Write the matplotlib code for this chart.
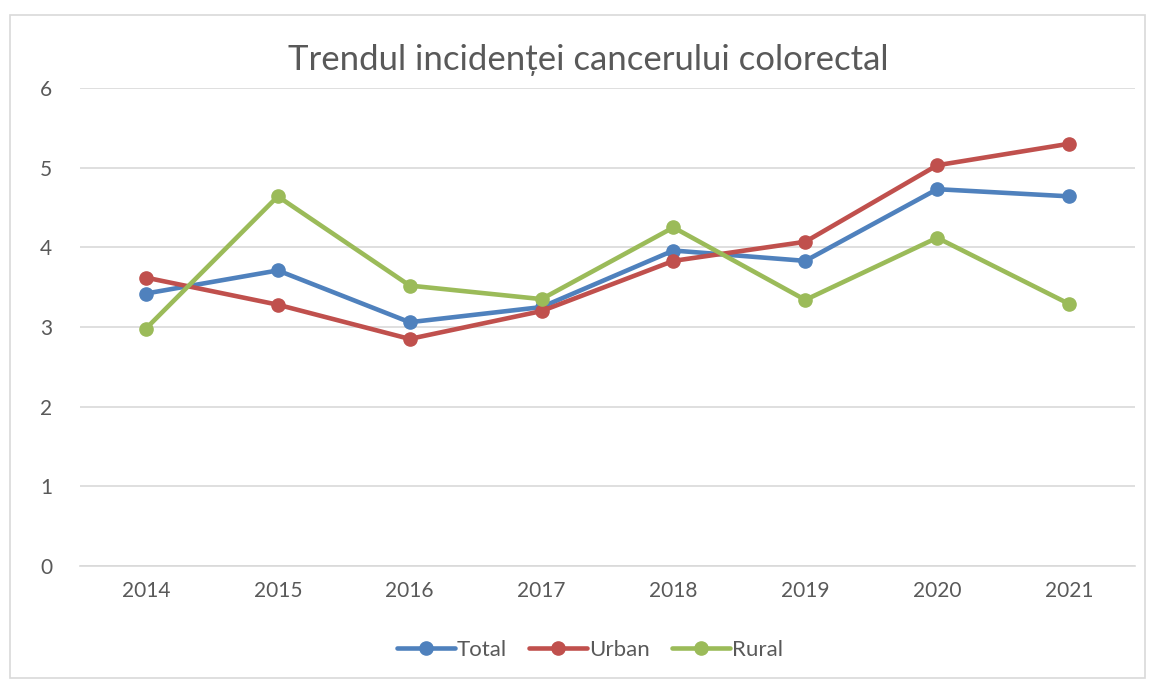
import matplotlib.pyplot as plt
from matplotlib.patches import Rectangle

plt.rcParams['font.family'] = ['Lato', 'DejaVu Sans']

years = ['2014', '2015', '2016', '2017', '2018', '2019', '2020', '2021']
total = [3.42, 3.71, 3.06, 3.25, 3.96, 3.83, 4.73, 4.64]
urban = [3.62, 3.28, 2.85, 3.20, 3.83, 4.07, 5.03, 5.30]
rural = [2.98, 4.64, 3.52, 3.35, 4.25, 3.34, 4.12, 3.29]

series = [('Total', total, '#4F81BD'),
          ('Urban', urban, '#C0504D'),
          ('Rural', rural, '#9BBB59')]

fig = plt.figure(figsize=(11.51, 6.80), dpi=100)
# chart frame
fig.patches.append(Rectangle((10 / 1151, 2 / 680), 1135 / 1151, 663 / 680,
                             transform=fig.transFigure, fill=False,
                             edgecolor='#D9D9D9', linewidth=1.2))

ax = fig.add_axes([80 / 1151, 1 - 566 / 680, 1055 / 1151, 478 / 680])
x = list(range(len(years)))
for name, vals, col in series:
    ax.plot(x, vals, '-o', color=col, linewidth=3.3, markersize=9.5,
            label=name, solid_capstyle='round')

ax.set_xlim(-0.5, len(years) - 0.5)
ax.set_ylim(0, 6)
ax.set_yticks(range(0, 7))
ax.set_xticks(x)
ax.set_xticklabels(years)
ax.grid(axis='y', color='#D9D9D9', linewidth=1.2)
ax.set_axisbelow(True)
for s in ['top', 'right', 'left']:
    ax.spines[s].set_visible(False)
ax.spines['bottom'].set_color('#D9D9D9')
ax.spines['bottom'].set_linewidth(1.2)
ax.tick_params(length=0, labelsize=15, colors='#595959')
ax.tick_params(axis='x', pad=11)
ax.tick_params(axis='y', pad=20)

fig.text(588 / 1151, 1 - 60 / 680, 'Trendul incidenței cancerului colorectal',
         ha='center', va='center', fontsize=25, color='#595959')

fig.legend(loc='center', bbox_to_anchor=(590 / 1151, 1 - 650 / 680),
           ncol=3, frameon=False, fontsize=16, labelcolor='#595959',
           handlelength=2.6, columnspacing=1.0, handletextpad=0.1)

fig.savefig('out.png', dpi=100)
